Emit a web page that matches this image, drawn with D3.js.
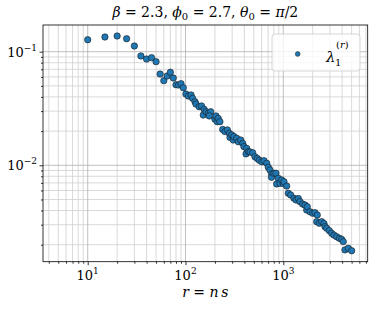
<!DOCTYPE html>
<html>
<head>
<meta charset="utf-8">
<script src="https://cdn.jsdelivr.net/npm/d3@7"></script>
<style>
  body { margin: 0; background: #fff; }
  svg text { font-family: "DejaVu Serif", serif; fill: #000; }
</style>
</head>
<body>
<div id="chart"></div>
<script>
// values
var rVals = [10, 15, 20, 25, 30, 35, 40, 45, 50, 55, 60, 65, 70, 75, 80, 85, 90, 95,
    101, 107, 114, 118, 125, 128, 138, 146, 155, 152, 162, 171, 181, 175, 200, 205, 211, 216, 225, 240,
    253, 268, 281, 285, 297, 308, 313, 334, 347, 367, 385, 396, 416, 423, 439, 457, 486, 513, 542, 568,
    602, 635, 677, 703, 731, 761, 758, 803, 842, 856, 889, 925, 963, 1000, 1017, 1083, 1125, 1191, 1287, 1349,
    1424, 1482, 1579, 1667, 1735, 1760, 1875, 1998, 2109, 2227, 2196, 2334, 2470, 2608, 2670, 2779, 2954, 3126,
    3299, 3516, 3737, 3955, 4107, 4274, 4618, 5005];
var lambdaVals = [0.1275, 0.1347, 0.1374, 0.1301, 0.1122, 0.0917, 0.0862, 0.0886, 0.0817, 0.0636, 0.0556, 0.0611,
    0.0659, 0.0587, 0.0512, 0.0509, 0.0523, 0.0482,
    0.0424, 0.0407, 0.0416, 0.0389, 0.0363, 0.0346, 0.0328, 0.0333, 0.0311, 0.0277, 0.0296, 0.0287, 0.0296, 0.0272,
    0.0254, 0.0272, 0.0242, 0.0259, 0.0242, 0.0207, 0.0198, 0.0205, 0.0191, 0.0176, 0.0185, 0.0167, 0.0179, 0.0173,
    0.0161, 0.0167, 0.0156, 0.0146, 0.0126, 0.0141, 0.0132, 0.0131, 0.0129, 0.0119, 0.0115, 0.0111, 0.01075, 0.01098,
    0.01041, 0.0096, 0.0091, 0.0084, 0.00784, 0.0085, 0.00852, 0.00685, 0.00768, 0.00694, 0.00743, 0.0069, 0.00717,
    0.00657, 0.00567, 0.00548, 0.00512, 0.00495, 0.0051, 0.00478, 0.00456, 0.00447, 0.00404, 0.00432, 0.0039, 0.00378,
    0.00383, 0.00365, 0.00319, 0.00309, 0.00319, 0.00307, 0.00288, 0.00279, 0.00266, 0.00252, 0.00243, 0.00235,
    0.00228, 0.00223, 0.00213, 0.0018, 0.00186, 0.00177];

var xMajor = [10, 100, 1000];
var xMajorLabels = ["1", "2", "3"];
var yMajor = [0.1, 0.01];
var yMajorLabels = ["\u22121", "\u22122"];
var xMinor = [4, 5, 6, 7, 8, 9, 20, 30, 40, 50, 60, 70, 80, 90,
    200, 300, 400, 500, 600, 700, 800, 900, 2000, 3000, 4000, 5000, 6000, 7000];
var yMinor = [0.002, 0.003, 0.004, 0.005, 0.006, 0.007, 0.008, 0.009,
    0.02, 0.03, 0.04, 0.05, 0.06, 0.07, 0.08, 0.09];

var svgWidth = 374, svgHeight = 309;
var margin = { top: 25, right: 6.3, bottom: 47.3, left: 43 };
var chartWidth = svgWidth - margin.left - margin.right;
var chartHeight = svgHeight - margin.top - margin.bottom;

var svg = d3.select("#chart").append("svg")
    .attr("width", svgWidth)
    .attr("height", svgHeight);

var chartGroup = svg.append("g")
    .attr("transform", `translate(${margin.left}, ${margin.top})`);

var x = d3.scaleLog().domain([3.49, 7300]).range([0, chartWidth]);
var y = d3.scaleLog().domain([0.001417, 0.1718]).range([chartHeight, 0]);

// grid lines: minor first, then major
var grid = chartGroup.append("g");
grid.selectAll(".vminor").data(xMinor).enter().append("line")
    .attr("x1", d => x(d)).attr("x2", d => x(d))
    .attr("y1", 0).attr("y2", chartHeight)
    .attr("stroke", "#cfcfcf").attr("stroke-width", 0.8);
grid.selectAll(".hminor").data(yMinor).enter().append("line")
    .attr("y1", d => y(d)).attr("y2", d => y(d))
    .attr("x1", 0).attr("x2", chartWidth)
    .attr("stroke", "#cfcfcf").attr("stroke-width", 0.8);
grid.selectAll(".vmajor").data(xMajor).enter().append("line")
    .attr("x1", d => x(d)).attr("x2", d => x(d))
    .attr("y1", 0).attr("y2", chartHeight)
    .attr("stroke", "#b0b0b0").attr("stroke-width", 0.8);
grid.selectAll(".hmajor").data(yMajor).enter().append("line")
    .attr("y1", d => y(d)).attr("y2", d => y(d))
    .attr("x1", 0).attr("x2", chartWidth)
    .attr("stroke", "#b0b0b0").attr("stroke-width", 0.8);

// axes with major and minor ticks
function styleAxis(g) {
    g.select(".domain").remove();
    g.selectAll("line").attr("stroke", "#000").attr("stroke-width", 0.8);
    g.selectAll("text").remove();
}
chartGroup.append("g").attr("transform", `translate(0, ${chartHeight})`)
    .call(d3.axisBottom(x).tickValues(xMajor).tickSize(3.5)).call(styleAxis);
chartGroup.append("g").attr("transform", `translate(0, ${chartHeight})`)
    .call(d3.axisBottom(x).tickValues(xMinor).tickSize(2)).call(styleAxis);
chartGroup.append("g")
    .call(d3.axisLeft(y).tickValues(yMajor).tickSize(3.5)).call(styleAxis);
chartGroup.append("g")
    .call(d3.axisLeft(y).tickValues(yMinor).tickSize(2)).call(styleAxis);

// tick labels like 10^1
xMajor.forEach(function(v, i) {
    var t = chartGroup.append("text")
        .attr("x", x(v))
        .attr("y", chartHeight + 18.5)
        .attr("text-anchor", "middle")
        .style("font-size", "13px");
    t.append("tspan").text("10");
    t.append("tspan").attr("dy", -6).style("font-size", "9px").text(xMajorLabels[i]);
});
yMajor.forEach(function(v, i) {
    var t = chartGroup.append("text")
        .attr("x", -6)
        .attr("y", y(v) + 5)
        .attr("text-anchor", "end")
        .style("font-size", "13px");
    t.append("tspan").text("10");
    t.append("tspan").attr("dy", -6).style("font-size", "9px").text(yMajorLabels[i]);
});

// points
var points = rVals.map((r, i) => ({ r: r, lam: lambdaVals[i] }));
chartGroup.append("g").selectAll("circle")
    .data(points)
    .enter()
    .append("circle")
    .attr("cx", d => x(d.r))
    .attr("cy", d => y(d.lam))
    .attr("r", 3.2)
    .attr("fill", "#1f77b4")
    .attr("stroke", "#1a1a1a")
    .attr("stroke-width", 0.6);

// frame
chartGroup.append("rect")
    .attr("width", chartWidth).attr("height", chartHeight)
    .attr("fill", "none").attr("stroke", "#000").attr("stroke-width", 0.8);

// legend
var legend = svg.append("g");
legend.append("rect")
    .attr("x", 272).attr("y", 34).attr("width", 88).attr("height", 37).attr("rx", 3)
    .attr("fill", "#fff").attr("fill-opacity", 0.8)
    .attr("stroke", "#cccccc").attr("stroke-width", 0.8);
legend.append("circle")
    .attr("cx", 297.7).attr("cy", 54).attr("r", 2.4)
    .attr("fill", "#1f77b4").attr("stroke", "#1a1a1a").attr("stroke-width", 0.5);
var lt = legend.append("text").style("font-size", "15px");
lt.append("tspan").attr("x", 326).attr("y", 62).style("font-style", "italic").text("\u03bb");
lt.append("tspan").attr("x", 335).attr("y", 66).style("font-size", "10px").text("1");
lt.append("tspan").attr("x", 336).attr("y", 48).style("font-size", "10px").text("(");
lt.append("tspan").style("font-size", "10px").style("font-style", "italic").text("r");
lt.append("tspan").style("font-size", "10px").text(")");

// title
var title = svg.append("text")
    .attr("x", margin.left + chartWidth / 2)
    .attr("y", 17)
    .attr("text-anchor", "middle")
    .style("font-size", "14px");
title.append("tspan").style("font-style", "italic").text("\u03b2");
title.append("tspan").text(" = 2.3, ");
title.append("tspan").style("font-style", "italic").text("\u03d5");
title.append("tspan").attr("dy", 3).style("font-size", "10px").text("0");
title.append("tspan").attr("dy", -3).text(" = 2.7, ");
title.append("tspan").style("font-style", "italic").text("\u03b8");
title.append("tspan").attr("dy", 3).style("font-size", "10px").text("0");
title.append("tspan").attr("dy", -3).text(" = ");
title.append("tspan").style("font-style", "italic").text("\u03c0");
title.append("tspan").text("/2");

// x axis label
var xl = svg.append("text")
    .attr("x", margin.left + chartWidth / 2)
    .attr("y", 297)
    .attr("text-anchor", "middle")
    .style("font-size", "14px");
xl.append("tspan").style("font-style", "italic").text("r");
xl.append("tspan").text(" = ");
xl.append("tspan").style("font-style", "italic").text("n\u2009s");
</script>
</body>
</html>
